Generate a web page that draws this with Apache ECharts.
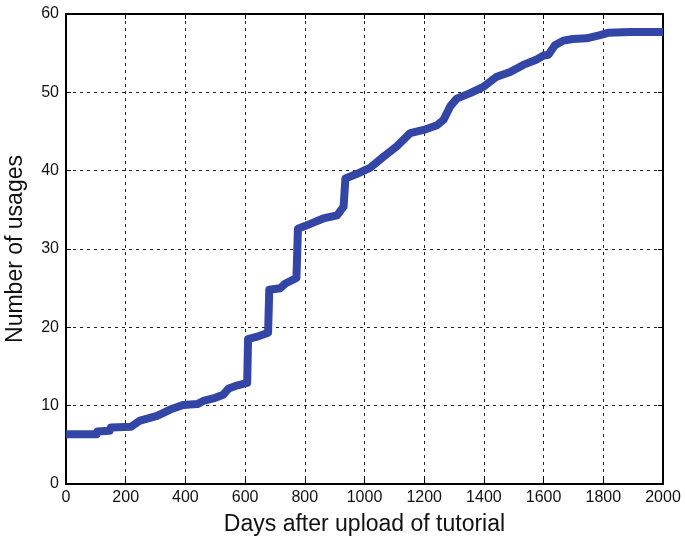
<!DOCTYPE html>
<html>
<head>
<meta charset="utf-8">
<script src="https://cdn.jsdelivr.net/npm/echarts@6/dist/echarts.min.js"></script>
<style>html,body{margin:0;padding:0;background:#fff}#c{width:685px;height:543px}</style>
</head>
<body>
<div id="c"></div>
<script>
const days = [0,103,105,147,150,218,248,305,349,392,440,460,500,527,545,575,607,610,640,677,681,718,735,772,777,818,862,908,930,936,975,1020,1064,1108,1153,1198,1243,1265,1287,1309,1354,1398,1443,1488,1532,1577,1600,1616,1638,1666,1698,1744,1789,1816,1890,2000];
const usages = [6.35,6.35,6.7,6.8,7.2,7.3,8.1,8.7,9.5,10.1,10.2,10.6,11.0,11.4,12.2,12.6,12.9,18.5,18.8,19.3,24.8,25.0,25.6,26.3,32.6,33.2,33.9,34.3,35.4,39.0,39.6,40.4,41.8,43.1,44.8,45.2,45.8,46.5,48.2,49.2,49.9,50.7,52.0,52.6,53.5,54.2,54.7,54.8,56.0,56.6,56.8,56.9,57.3,57.6,57.7,57.7];
const xTitle = 'Days after upload of tutorial';
const yTitle = 'Number of usages';

const FONT = '"Liberation Sans", Arial, Helvetica, sans-serif';
const chart = echarts.init(document.getElementById('c'), null, {renderer: 'canvas'});
const frame = {show: true, onZero: false, lineStyle: {color: '#000', width: 2}};
const ticks = {show: true, inside: true, length: 5, lineStyle: {color: '#000', width: 1}};
const grid = {show: true, lineStyle: {color: '#222', width: 1, type: [3, 4]}};
chart.setOption({
  animation: false,
  backgroundColor: '#fff',
  grid: {left: 66, right: 22, top: 14, bottom: 59, containLabel: false, outerBoundsMode: 'none'},
  xAxis: [{
    type: 'value', min: 0, max: 2000, interval: 200, position: 'bottom',
    axisLine: frame, axisTick: ticks, splitLine: grid,
    axisLabel: {color: '#111', fontSize: 16, fontFamily: FONT, margin: 6, formatter: v => String(v)},
    name: xTitle, nameLocation: 'middle', nameGap: 29,
    nameTextStyle: {color: '#111', fontSize: 23, fontFamily: FONT}
  }, {
    type: 'value', min: 0, max: 2000, interval: 200, position: 'top',
    axisLine: frame, axisTick: ticks, splitLine: {show: false}, axisLabel: {show: false}
  }],
  yAxis: [{
    type: 'value', min: 0, max: 60, interval: 10, position: 'left',
    axisLine: frame, axisTick: ticks, splitLine: grid,
    axisLabel: {color: '#111', fontSize: 16, fontFamily: FONT, margin: 7},
    name: yTitle, nameLocation: 'middle', nameGap: 39,
    nameTextStyle: {color: '#111', fontSize: 23, fontFamily: FONT}
  }, {
    type: 'value', min: 0, max: 60, interval: 10, position: 'right',
    axisLine: frame, axisTick: ticks, splitLine: {show: false}, axisLabel: {show: false}
  }],
  series: [{
    type: 'line',
    data: days.map((d, i) => [d, usages[i]]),
    showSymbol: false, symbol: 'none',
    lineStyle: {color: '#3346A6', width: 8, cap: 'butt', join: 'round'},
    z: 3
  }]
});
</script>
</body>
</html>
